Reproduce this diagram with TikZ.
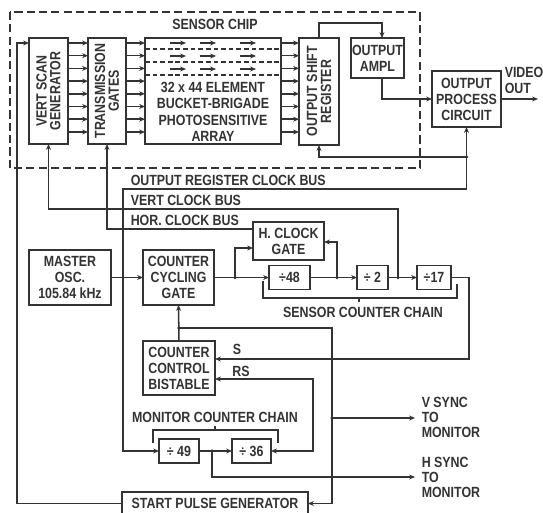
\documentclass[tikz,border=0pt]{standalone}
\usepackage{fontspec}
\setmainfont{Liberation Sans}[FakeStretch=0.84]
\usetikzlibrary{arrows.meta}
\definecolor{ink}{HTML}{333333}
\newcommand\lbl{\bfseries\fontsize{12.6}{13.6}\selectfont}
\newcommand\vlbl{\bfseries\fontsize{12.6}{11.8}\selectfont}
\newcommand\bx[7][]{\node[box,#1,minimum width={(#5-#3)*0.03cm},minimum height={(#6-#4)*0.03cm}] (#2) at ({(#3+#5)/2},{(#4+#6)/2}) {#7};}
\begin{document}
\begin{tikzpicture}[x=0.03cm,y=-0.03cm,line width=1.3pt,color=ink,
  box/.style={draw=ink,inner sep=0pt,outer sep=0pt,align=center,font=\lbl},
  lab/.style={inner sep=0pt,align=center,font=\lbl,text=ink},
  arr/.style={-{Stealth[length=5pt,width=4.2pt]}},
  arrb/.style={{Stealth[length=5pt,width=4.2pt]}-{Stealth[length=5pt,width=4.2pt]}},
  jdot/.style={fill=ink}]
\path[use as bounding box,fill=white] (0,0) rectangle (543,512);

% sensor chip outline
\draw[dash pattern=on 7pt off 3.5pt] (10,12) rectangle (420,168);
\node[lab] (sc) at (215,24) {SENSOR CHIP};

% boxes
\bx{vsg}{29}{38}{68}{144}{}
\bx{tg}{88}{38}{126}{144}{}
\bx{ary}{145}{38}{281}{144}{}
\bx{osr}{299}{38}{339}{145}{}
\bx{oa}{351}{38}{404}{78}{OUTPUT\\AMPL}
\bx{opc}{432}{71}{501}{127}{OUTPUT\\PROCESS\\CIRCUIT}
\bx{mo}{29}{250}{111}{305}{MASTER\\OSC.\\105.84 kHz}
\bx{ccg}{143}{250}{214}{305}{COUNTER\\CYCLING\\GATE}
\bx{hcg}{253}{222}{324}{260}{H. CLOCK\\GATE}
\bx{d48}{269}{265.5}{310}{289.5}{÷48}
\bx{d2}{357}{265.5}{388}{289.5}{÷ 2}
\bx{d17}{417}{265.5}{451}{289.5}{÷17}
\bx{ccb}{143}{341}{215}{395}{COUNTER\\CONTROL\\BISTABLE}
\bx{d49}{159}{439}{199}{463}{÷ 49}
\bx{d36}{232}{439}{271}{463}{÷ 36}
\bx{spg}{122}{492}{308}{515}{START PULSE GENERATOR}

\node[lab,rotate=90,font=\vlbl] (vsgt) at (vsg.center) {VERT SCAN\\GENERATOR};
\node[lab,rotate=90,font=\vlbl] (tgt) at (tg.center) {TRANSMISSION\\GATES};
\node[lab,rotate=90,font=\vlbl] (osrt) at (osr.center) {OUTPUT SHIFT\\REGISTER};
\node[lab,font=\bfseries\fontsize{12.6}{14}\selectfont] (aryt) at (213,112) {32 x 44 ELEMENT\\BUCKET-BRIGADE\\PHOTOSENSITIVE\\ARRAY};

% array internals
\foreach \y in {43,56,69}{
  \foreach \a/\b in {170/186,200/216,240/256}{\draw[arr] (\a,\y) -- (\b,\y);}
}
\foreach \y in {49,62,75}{\draw[dash pattern=on 4pt off 2.5pt] (ary.west |- 0,\y) -- (ary.east |- 0,\y);}

% parallel lines
\foreach \y in {43,55.7,68.4,81.1,93.8,106.5,119.2,132}{
  \draw[arr] (vsg.east |- 0,\y) -- (tg.west |- 0,\y);
  \draw[arr] (tg.east |- 0,\y) -- (ary.west |- 0,\y);
  \draw[arr] (ary.east |- 0,\y) -- (osr.west |- 0,\y);
}

% output path
\draw[arr] (osr.north) |- (382,23) -- (382,23 |- oa.north);
\draw[arr] (382,0 |- oa.south) |- (opc.west);
\coordinate (vo) at (538,99);
\draw[arr] (opc.east) -- (vo);
\node[lab,align=left,anchor=west] (vot) at (504,80) {VIDEO\\OUT};

% junctions
\coordinate (j1) at (123,277.5);
\coordinate (j2) at (235,277.5);
\coordinate (j3) at (337,277.5);
\coordinate (j5) at (398,277.5);
\coordinate (j4) at (466.5,157);
\coordinate (j6) at (179,328);
\coordinate (j7) at (332,418);
\coordinate (j8) at (212,451);
\coordinate (j9) at (332,477);

% output register clock bus
\draw[arr] (j1) |- (opc.south |- 0,189) -- (opc.south);
\draw[arr] (j4) -| (osr.south);
\node[lab,anchor=base west] (orl) at (130,186) {OUTPUT REGISTER CLOCK BUS};
% vert clock bus
\draw[arr] (j5) |- (vsg.south |- 0,209) -- (vsg.south);
\node[lab,anchor=base west] (vcl) at (130,205.5) {VERT CLOCK BUS};
% hor clock bus
\draw[arr] (hcg.west |- 0,229) -| (tg.south);
\node[lab,anchor=base west] (hcl) at (130,225.5) {HOR. CLOCK BUS};

% master osc and chains
\draw[arr] (mo.east) -- (ccg.west);
\draw[arr] (j1) |- (d49.west);
\draw[arr] (ccg.east) -- (d48.west);
\draw[arr] (j2) |- (hcg.west |- 0,248);
\draw[arr] (d48.east) -- (d2.west);
\draw[arr] (j3) |- (hcg.east |- 0,242);
\draw[arr] (d2.east) -- (d17.west);
\draw[arr] (d17.east) -- (469,277.5) |- (ccb.east |- 0,359);
\draw[arrb] (d36.east) -| (313,379) -- (ccb.east |- 0,379);
\node[lab] (sl) at (237,349) {S};
\node[lab] (rsl) at (241,371) {RS};
\draw[arr] (ccb.north) -- (ccg.south);
\draw[arr] (j6) -| (332,0 |- spg.east) -- (spg.east);
\coordinate (vs) at (415,418);
\draw[arr] (j7) -- (vs);
\draw[arr] (d49.east) -- (d36.west);
\coordinate (hs) at (415,477);
\draw[arr] (j8) |- (hs);
\draw[arr] (spg.west) -| (17,43) -- (vsg.west |- 17,43);

\node[lab,align=left,anchor=west,font=\bfseries\fontsize{12.6}{12.8}\selectfont] (vst) at (421,417) {V SYNC\\TO\\MONITOR};
\node[lab,align=left,anchor=west,font=\bfseries\fontsize{12.6}{12.8}\selectfont] (hst) at (421,477) {H SYNC\\TO\\MONITOR};

% brackets
\draw (263,281) -- (263,298) -- (457,298) -- (457,284);
\draw (359,298) -- (359,302);
\node[lab] (scc) at (363,312) {SENSOR COUNTER CHAIN};
\draw (153,443) -- (153,430) -- (278,430) -- (278,443);
\draw (215,430) -- (215,426);
\node[lab] (mcc) at (215,417) {MONITOR COUNTER CHAIN};

\foreach \p in {j1,j2,j3,j4,j5,j6,j7,j8,j9}{\fill[jdot] (\p) circle (1.5pt);}
\end{tikzpicture}
\end{document}
